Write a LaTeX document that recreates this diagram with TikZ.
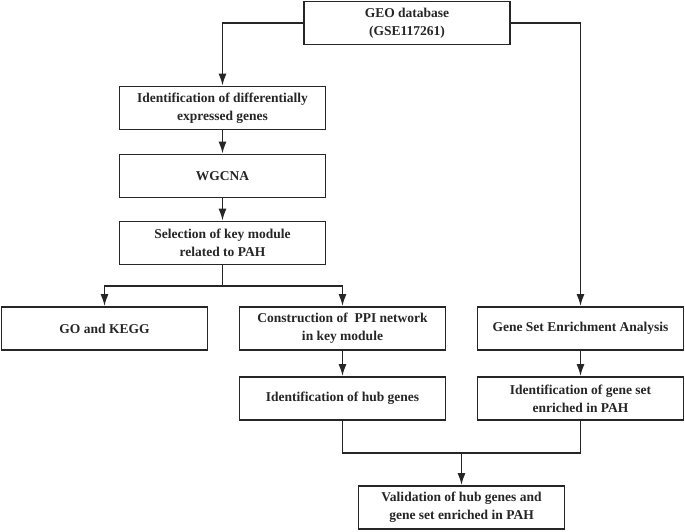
\documentclass[tikz,border=0pt]{standalone}
\usepackage{fontspec}
\setmainfont{Liberation Serif}
\usetikzlibrary{arrows.meta}

\begin{document}
\begin{tikzpicture}[x=1pt,y=-1pt,
		stepbox/.style={draw=black!85,text=black!85,line width=1.7pt,fill=white,align=center,minimum width=206pt,minimum height=43pt,inner sep=2pt,font=\fontsize{13.5}{18}\selectfont\bfseries},
		flow/.style={draw=black!85,line width=1.7pt,-{Latex[length=12pt,width=8pt]}},
		link/.style={draw=black!85,line width=1.7pt}]
			\useasboundingbox (0,0) rectangle (685,531);
			\node[stepbox] (geo) at (407,23) {GEO database\\(GSE117261)};
			\node[stepbox] (deg) at (222.5,108) {Identification of differentially\\expressed genes};
			\node[stepbox] (wgcna) at (222.5,176) {WGCNA};
			\node[stepbox] (sel) at (222.5,243) {Selection of key module\\related to PAH};
			\node[stepbox] (go) at (104.5,328.5) {GO and KEGG};
			\node[stepbox] (ppi) at (342.5,328.5) {Construction of \ PPI network\\in key module};
			\node[stepbox] (gsea) at (580.5,328.5) {Gene Set Enrichment Analysis};
			\node[stepbox] (hub) at (342.5,398.5) {Identification of hub genes};
			\node[stepbox] (gset) at (580.5,398.5) {Identification of gene set\\enriched in PAH};
			\node[stepbox] (valid) at (461.5,507.5) {Validation of hub genes and\\gene set enriched in PAH};
			\coordinate (split) at (222.5,286);
			\coordinate (merge) at (461.5,453);
			\draw[flow] (geo.west) -| (deg.north);
			\draw[flow] (geo.east) -| (gsea.north);
			\draw[flow] (deg) -- (wgcna);
			\draw[flow] (wgcna) -- (sel);
			\draw[link] (sel) -- (split);
			\draw[flow] (split) -| (go.north);
			\draw[flow] (split) -| (ppi.north);
			\draw[flow] (ppi) -- (hub);
			\draw[flow] (gsea) -- (gset);
			\draw[link] (hub.south) |- (merge) -| (gset.south);
			\draw[flow] (merge) -- (valid);
		\end{tikzpicture}
\end{document}
